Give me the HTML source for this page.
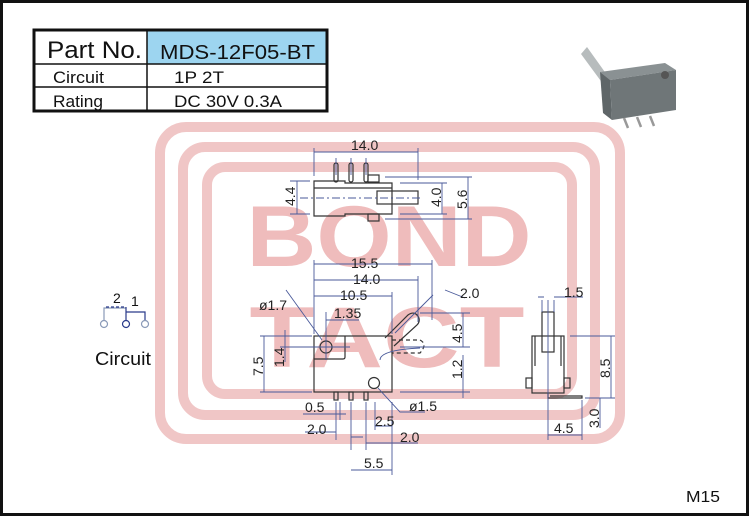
<!DOCTYPE html>
<html><head><meta charset="utf-8"><style>
html,body{margin:0;padding:0;background:#fff}
svg{display:block}
text{font-family:"Liberation Sans",sans-serif}
</style></head><body>
<svg width="750" height="517" viewBox="0 0 750 517" xmlns="http://www.w3.org/2000/svg">
<rect x="1.5" y="1.5" width="746" height="513" fill="#fff" stroke="#111" stroke-width="3"/>
<!-- watermark -->
<g fill="none" stroke="#f0c6c6" stroke-width="10">
<rect x="160" y="127" width="460" height="312" rx="26"/>
<rect x="183" y="147" width="412" height="268" rx="22"/>
<rect x="207" y="167" width="365" height="227" rx="18"/>
</g>
<g fill="#efbcbc" font-family="Liberation Serif,serif" font-weight="bold">
<text x="389" y="266" font-size="86" text-anchor="middle" textLength="285" lengthAdjust="spacingAndGlyphs">BOND</text>
<text x="387" y="367" font-size="86" text-anchor="middle" textLength="275" lengthAdjust="spacingAndGlyphs">TACT</text>
</g>
<!-- table -->
<rect x="147" y="30" width="180" height="34" fill="#9dd5f0"/>
<g stroke="#111" fill="none">
<rect x="34" y="30" width="293" height="81" stroke-width="3"/>
<line x1="34" y1="64" x2="327" y2="64" stroke-width="1.5"/>
<line x1="34" y1="87" x2="327" y2="87" stroke-width="1.5"/>
<line x1="147" y1="30" x2="147" y2="111" stroke-width="1.5"/>
</g>
<g fill="#111">
<text x="47" y="58" font-size="24" textLength="95" lengthAdjust="spacingAndGlyphs">Part  No.</text>
<text x="160" y="59" font-size="20" textLength="155" lengthAdjust="spacingAndGlyphs">MDS-12F05-BT</text>
<text x="53" y="83" font-size="17" textLength="51" lengthAdjust="spacingAndGlyphs">Circuit</text>
<text x="174" y="83" font-size="17" textLength="50" lengthAdjust="spacingAndGlyphs">1P  2T</text>
<text x="53" y="107" font-size="17" textLength="50" lengthAdjust="spacingAndGlyphs">Rating</text>
<text x="174" y="107" font-size="17" textLength="108" lengthAdjust="spacingAndGlyphs">DC  30V  0.3A</text>
<text x="95" y="365" font-size="18" textLength="56" lengthAdjust="spacingAndGlyphs">Circuit</text>
<text x="686" y="502" font-size="16" textLength="34" lengthAdjust="spacingAndGlyphs">M15</text>
</g>
<!-- product -->
<g>
<polygon points="581,54 587,47 612,82 606,88" fill="#b7bcbd"/>
<polygon points="600,72 665,63 676,70 610,80" fill="#8a9193"/>
<polygon points="600,72 610,80 612,120 603,113" fill="#5f6668"/>
<polygon points="610,80 676,70 676,110 612,120" fill="#6f7678"/>
<circle cx="665" cy="75" r="4" fill="#555"/>
<g stroke="#999" stroke-width="2.5"><line x1="624" y1="118" x2="628" y2="128"/><line x1="637" y1="117" x2="641" y2="127"/><line x1="650" y1="116" x2="654" y2="126"/></g>
</g>
<!-- circuit icon -->
<g fill="none" stroke-width="1.2">
<circle cx="104" cy="324" r="3.5" stroke="#8a9ab8"/>
<circle cx="126" cy="324" r="3.5" stroke="#2a3a8a"/>
<circle cx="145" cy="324" r="3.5" stroke="#8a9ab8"/>
<path d="M104 320V308H126" stroke="#8a9ab8"/>
<path d="M106 307H125" stroke="#2a3a8a" stroke-dasharray="3 2"/>
<path d="M126 307V320M126 312H145V320" stroke="#2a3a8a"/>
</g>
<text x="113" y="303" font-size="14" fill="#111">2</text>
<text x="131" y="306" font-size="14" fill="#111">1</text>
<!-- drawings -->
<g fill="none" stroke="#333" stroke-width="1.2">
<path d="M314 181H345V183H392V214H345V216H314Z"/>
<line x1="314" y1="188" x2="392" y2="188"/>
<rect x="377" y="191" width="41" height="13"/>
<rect x="368" y="175" width="11" height="7"/>
<rect x="368" y="214" width="11" height="7"/>
<rect x="334" y="163" width="4" height="19" rx="2"/>
<rect x="349" y="163" width="4" height="19" rx="2"/>
<rect x="364" y="163" width="4" height="19" rx="2"/>
<rect x="314" y="336" width="78" height="56"/>
<path d="M314 359H343Q345 359 345 357V336"/>
<circle cx="326" cy="347" r="6"/>
<circle cx="374" cy="383" r="5.5"/>
<rect x="334" y="392" width="4" height="8"/>
<rect x="349" y="392" width="4" height="8"/>
<rect x="364" y="392" width="4" height="8"/>
<path d="M385 338L408 315Q415 310 419 318Q420 322 417 325L394 346"/>
<path d="M392 340H420Q428 344 420 353H392" stroke-dasharray="4 3"/>
<rect x="542" y="312" width="12" height="40"/>
<rect x="532" y="336" width="32" height="57"/>
<line x1="535" y1="336" x2="535" y2="366"/><line x1="561" y1="336" x2="561" y2="366"/>
<rect x="526" y="378" width="6" height="10"/><rect x="564" y="378" width="6" height="10"/>
<path d="M548 393V398H582V396H550"/>
</g>
<g fill="none" stroke="#4a5a9a" stroke-width="0.9">
<path d="M314 148V176M418 148V180M314 152H418"/>
<path d="M290 181H310M290 214H310M297 181V214"/>
<path d="M300 198H420" stroke-dasharray="8 3 2 3"/>
<path d="M400 183H447M400 214H447M442 183V214"/>
<path d="M385 177H472M385 219H472M468 177V219"/>
<path d="M336 158V175M351 158V175M366 158V175"/>
<path d="M314 260V334M432 260V320M418 276V322M392 292V334"/>
<path d="M314 264H432M314 280H418M314 296H392M326 320H359M326 312V336"/>
<path d="M260 336H312M260 392H312M264 336V392M280 347H320M285 330V362"/>
<path d="M400 347H470M420 313H470M400 392H470M463 313V347M463 355V398"/>
<path d="M300 347H350M326 335V360"/>
<path d="M286 290L322 340M420 348Q380 350 380 360M378 388L400 412H425"/>
<path d="M395 333L433 295M445 290L465 298"/>
<path d="M336 402V440M340 402V420M351 402V450M366 402V450M392 402V475M375 402V430"/>
<path d="M303 414H346M305 432H336M366 443H418M351 470H392M375 426H392M351 437H363"/>
<path d="M548 300V440M554 300V312M542 300V312M538 297H544M554 297H583"/>
<path d="M570 336H615M585 398H615M611 336V398M600 398V428M582 400V440M548 435H582"/>
</g>
<g fill="#222" font-size="14">
<text x="351" y="150">14.0</text>
<text x="351" y="268">15.5</text>
<text x="353" y="284">14.0</text>
<text x="340" y="300">10.5</text>
<text x="334" y="318">1.35</text>
<text x="259" y="310">ø1.7</text>
<text x="460" y="298">2.0</text>
<text x="409" y="411">ø1.5</text>
<text x="305" y="412">0.5</text>
<text x="307" y="434">2.0</text>
<text x="375" y="426">2.5</text>
<text x="400" y="442">2.0</text>
<text x="364" y="468">5.5</text>
<text x="564" y="297">1.5</text>
<text x="554" y="433">4.5</text>
<text transform="translate(295,206) rotate(-90)">4.4</text>
<text transform="translate(441,207) rotate(-90)">4.0</text>
<text transform="translate(467,209) rotate(-90)">5.6</text>
<text transform="translate(263,376) rotate(-90)">7.5</text>
<text transform="translate(284,367) rotate(-90)">1.4</text>
<text transform="translate(462,343) rotate(-90)">4.5</text>
<text transform="translate(462,379) rotate(-90)">1.2</text>
<text transform="translate(610,378) rotate(-90)">8.5</text>
<text transform="translate(599,428) rotate(-90)">3.0</text>
</g>
</svg>
</body></html>
